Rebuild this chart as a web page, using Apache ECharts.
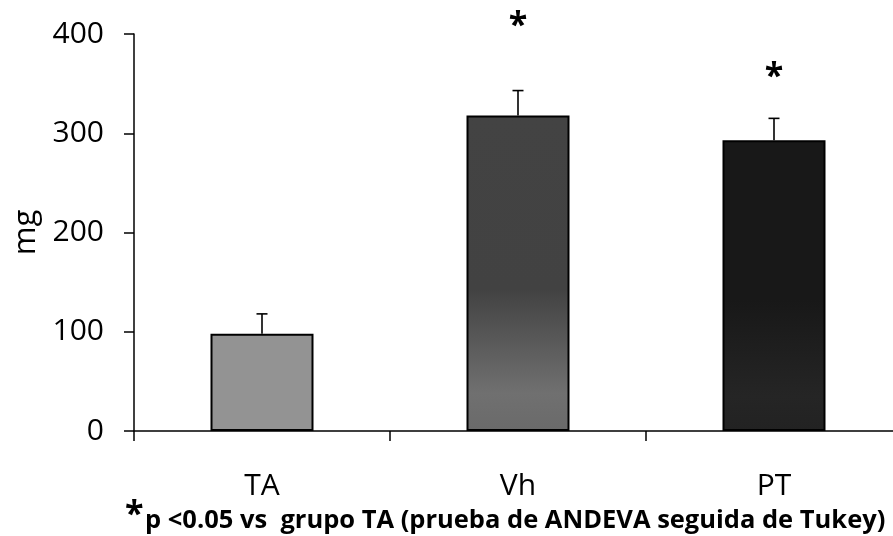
<!DOCTYPE html>
<html>
<head>
<meta charset="utf-8">
<script src="https://cdn.jsdelivr.net/npm/echarts@6/dist/echarts.min.js"></script>
<style>
html,body{margin:0;padding:0;background:#fff;}
#chart{width:893px;height:536px;}
</style>
</head>
<body>
<div id="chart"></div>
<script>
const categories = ['TA', 'Vh', 'PT'];
const means = [98, 318, 293];
const errorTops = [118, 343, 315];
const sigMarkY = [null, 408, 356];
const yTicks = [0, 100, 200, 300, 400];
const yAxisName = 'mg';
const footnoteStar = '*';
const footnoteText = 'p <0.05 vs  grupo TA (prueba de ANDEVA seguida de Tukey)';

const FONT = '"Open Sans", "Liberation Sans", sans-serif';

function grad(stops) {
  return new echarts.graphic.LinearGradient(0, 0, 0, 1,
    stops.map(s => ({offset: s[0], color: s[1]})));
}
const barFills = [
  '#939393',
  grad([[0, '#434343'], [0.55, '#424242'], [0.88, '#707070'], [1, '#6a6a6a']]),
  grad([[0, '#181818'], [0.55, '#181818'], [0.88, '#252525'], [1, '#222222']])
];

const chart = echarts.init(document.getElementById('chart'), null, {renderer: 'canvas'});
chart.setOption({
  animation: false,
  backgroundColor: '#fff',
  grid: {left: 134, top: 34, width: 768, height: 397, containLabel: false, outerBoundsMode: 'none'},
  xAxis: {
    type: 'category',
    data: categories,
    axisLine: {lineStyle: {color: '#000', width: 1.5}},
    axisTick: {show: true, length: 10, lineStyle: {color: '#000', width: 1.5}},
    axisLabel: {color: '#000', fontSize: 30, fontFamily: FONT, margin: 40}
  },
  yAxis: {
    type: 'value',
    min: yTicks[0],
    max: yTicks[yTicks.length - 1],
    interval: 100,
    name: yAxisName,
    nameLocation: 'middle',
    nameGap: 88,
    nameTextStyle: {color: '#000', fontSize: 31, fontFamily: FONT},
    axisLine: {show: true, lineStyle: {color: '#000', width: 1.5}},
    axisTick: {show: true, length: 10, lineStyle: {color: '#000', width: 1.5}},
    splitLine: {show: false},
    axisLabel: {color: '#000', fontSize: 30, fontFamily: FONT, margin: 30}
  },
  series: [
    {
      type: 'bar',
      barWidth: 103,
      data: means.map((v, i) => ({value: v, itemStyle: {color: barFills[i]}})),
      itemStyle: {borderColor: '#000', borderWidth: 2},
      z: 2
    },
    {
      type: 'custom',
      z: 3,
      data: means.map((v, i) => [i, v, errorTops[i]]),
      renderItem: function (params, api) {
        const base = api.coord([api.value(0), api.value(1)]);
        const top = api.coord([api.value(0), api.value(2)]);
        const half = 5.5;
        return {
          type: 'group',
          children: [
            {type: 'line', shape: {x1: base[0], y1: base[1], x2: top[0], y2: top[1]},
             style: {stroke: '#000', lineWidth: 1.6}},
            {type: 'line', shape: {x1: top[0] - half, y1: top[1], x2: top[0] + half, y2: top[1]},
             style: {stroke: '#000', lineWidth: 1.6}}
          ]
        };
      }
    },
    {
      type: 'custom',
      z: 4,
      clip: false,
      data: sigMarkY.map((v, i) => [i, v]).filter(d => d[1] !== null),
      renderItem: function (params, api) {
        const p = api.coord([api.value(0), api.value(1)]);
        return {
          type: 'text',
          x: p[0], y: p[1],
          style: {text: '*', fill: '#000', font: 'bold 34px ' + FONT, align: 'center', verticalAlign: 'middle'}
        };
      }
    }
  ],
  graphic: [
    {type: 'text', x: 125, y: 515,
     style: {text: footnoteStar, fill: '#000', font: 'bold 34px ' + FONT, verticalAlign: 'middle'}},
    {type: 'text', x: 145, y: 521,
     style: {text: footnoteText, fill: '#000', font: 'bold 25.5px ' + FONT, verticalAlign: 'middle'}}
  ]
});
</script>
</body>
</html>
